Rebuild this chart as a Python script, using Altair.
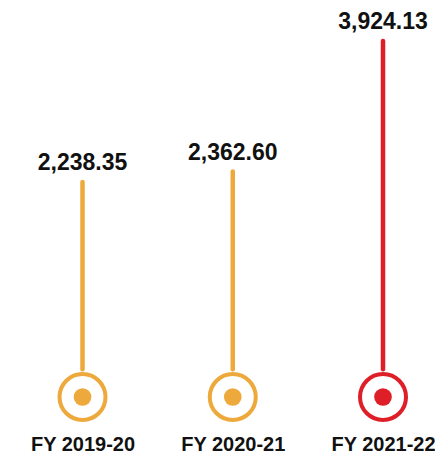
import altair as alt
import pandas as pd

years = ["FY 2019-20", "FY 2020-21", "FY 2021-22"]
values = [2238.35, 2362.60, 3924.13]

palette = ["#EDA93B", "#EDA93B", "#DE1F28"]

df = pd.DataFrame({"year": years, "value": values})

x = alt.X("year:N", sort=years, scale=alt.Scale(type="point", padding=0.421, align=0.589),
          axis=alt.Axis(title=None, domain=False, ticks=False, grid=False, labelAngle=0,
                        labelFont="Liberation Sans", labelFontSize=20,
                        labelFontWeight="bold", labelColor="#111111", labelPadding=6))
yscale = alt.Scale(domain=[-703, 4318.5], nice=False, zero=False)
col = alt.Color("year:N", scale=alt.Scale(domain=years, range=palette), legend=None)

base = alt.Chart(df).transform_calculate(zero="0")

stems = base.mark_rule(strokeWidth=4.5, strokeCap="round").encode(
    x=x,
    y=alt.Y("zero:Q", scale=yscale, axis=None),
    y2="value:Q",
    color=col,
)

rings = base.mark_point(shape="circle", fill="white", fillOpacity=1, opacity=1,
                        strokeWidth=4, size=2116, yOffset=27.8).encode(
    x=x,
    y=alt.Y("zero:Q", scale=yscale, axis=None),
    stroke=alt.Stroke("year:N", scale=alt.Scale(domain=years, range=palette), legend=None),
)

dots = base.mark_circle(size=313, opacity=1, yOffset=27.8).encode(
    x=x,
    y=alt.Y("zero:Q", scale=yscale, axis=None),
    color=col,
)

labels = base.mark_text(font="Liberation Sans", fontSize=23, fontWeight="bold",
                        color="#111111", baseline="alphabetic", dy=-12).encode(
    x=x,
    y=alt.Y("value:Q", scale=yscale, axis=None),
    text=alt.Text("value:Q", format=",.2f"),
)

chart = alt.layer(stems, rings, dots, labels).properties(
    width=427, height=420,
    autosize=alt.AutoSizeParams(type="none"),
    padding={"left": 0, "right": 0, "top": 0, "bottom": 40},
    view=alt.ViewBackground(stroke=None, strokeWidth=0, fill="white"),
).configure_axis(
    domain=False, grid=False, ticks=False
).configure(background="white")

chart.save("out.html", embed_options={"renderer": "svg", "actions": False})
